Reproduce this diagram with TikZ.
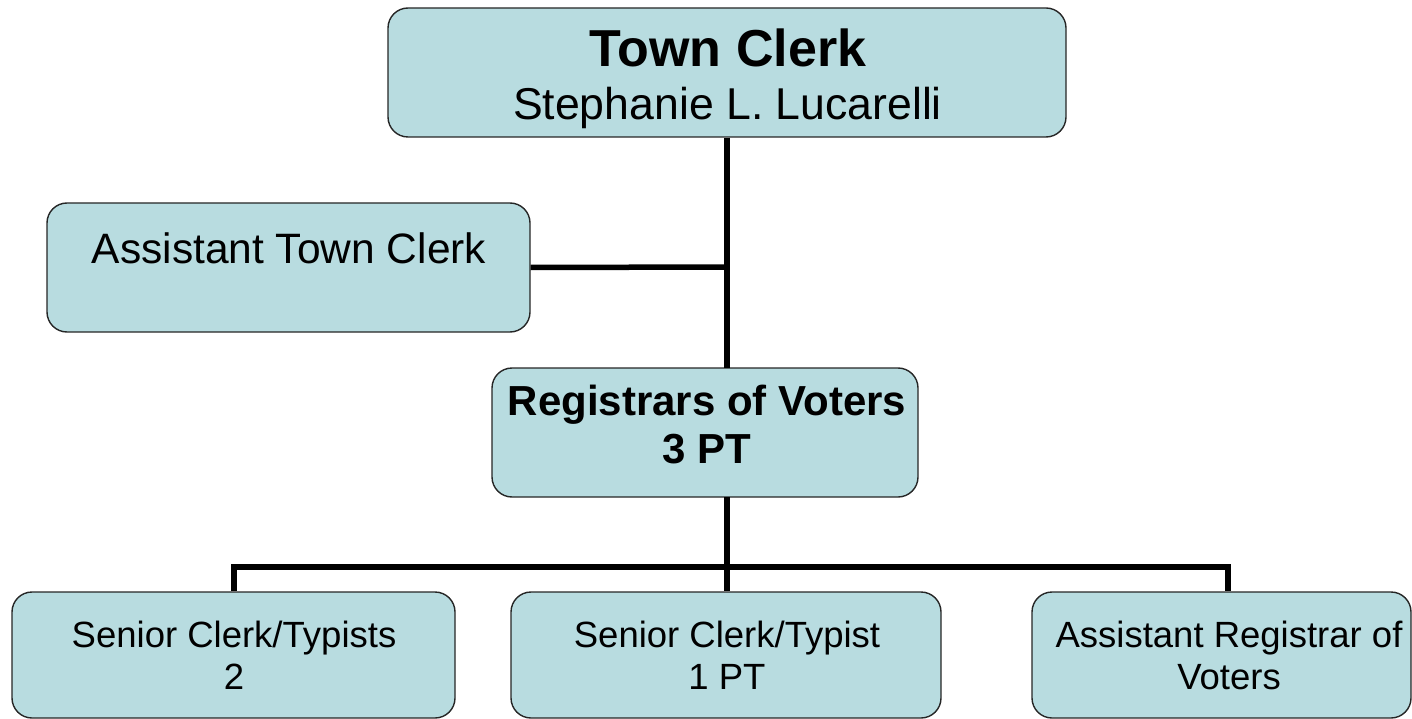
\documentclass[tikz,border=0pt]{standalone}
\usepackage{fontspec}
\setmainfont{Liberation Sans}
\definecolor{boxfill}{HTML}{B8DCE0}
\begin{document}
\begin{tikzpicture}[x=1pt,y=-1pt,
  box/.style={draw=black!85, line width=1.4pt, fill=boxfill, rounded corners=20pt, inner sep=0pt},
  conn/.style={line width=5.5pt, black},
  txt/.style={anchor=base, inner sep=0pt}]
\useasboundingbox (0,0) rectangle (1412,719);
% boxes
\node[box, minimum width=678pt, minimum height=129pt] (tc) at (727,72.5) {};
\node[box, minimum width=483pt, minimum height=129pt] (atc) at (288.5,267.5) {};
\node[box, minimum width=426pt, minimum height=129pt] (reg) at (705,432.5) {};
\node[box, minimum width=443pt, minimum height=126pt] (sc2) at (233.5,655) {};
\node[box, minimum width=430pt, minimum height=126pt] (sc1) at (726,655) {};
\node[box, minimum width=379pt, minimum height=126pt] (arv) at (1221.5,655) {};
% connectors
\coordinate (j1) at (727,267);
\coordinate (r1) at (727,368);
\coordinate (r2) at (727,497);
\coordinate (hl) at (234,567);
\coordinate (hr) at (1228,567);
\draw[conn] (tc.south -| r1) -- (r1);
\draw[conn] (atc.east) -- (j1);
\draw[conn] (r2) -- (sc1.north -| r2);
\draw[conn] (hl |- sc2.north) -- (hl) -- (hr) -- (hr |- arv.north);
% texts
\node[txt, font=\fontsize{52}{60}\selectfont\bfseries] (t1) at (728,66.5) {Town Clerk};
\node[txt, font=\fontsize{44.6}{52}\selectfont] (t2) at (727.5,119.5) {Stephanie L. Lucarelli};
\node[txt, font=\fontsize{42.5}{50}\selectfont] (t3) at (289,263) {Assistant Town Clerk};
\node[txt, font=\fontsize{42}{50}\selectfont\bfseries] (t4) at (707,415.5) {Registrars of Voters};
\node[txt, font=\fontsize{42}{50}\selectfont\bfseries] (t5) at (707,463) {3 PT};
\node[txt, font=\fontsize{36.5}{44}\selectfont] (t6) at (234,647.5) {Senior Clerk/Typists};
\node[txt, font=\fontsize{36.5}{44}\selectfont] (t7) at (234,689.5) {2};
\node[txt, font=\fontsize{36.5}{44}\selectfont] (t8) at (727,647.5) {Senior Clerk/Typist};
\node[txt, font=\fontsize{36.5}{44}\selectfont] (t9) at (727,689.5) {1 PT};
\node[txt, font=\fontsize{36.5}{44}\selectfont] (t10) at (1229,647.5) {Assistant Registrar of};
\node[txt, font=\fontsize{36.5}{44}\selectfont] (t11) at (1229,689.5) {Voters};
\end{tikzpicture}
\end{document}
